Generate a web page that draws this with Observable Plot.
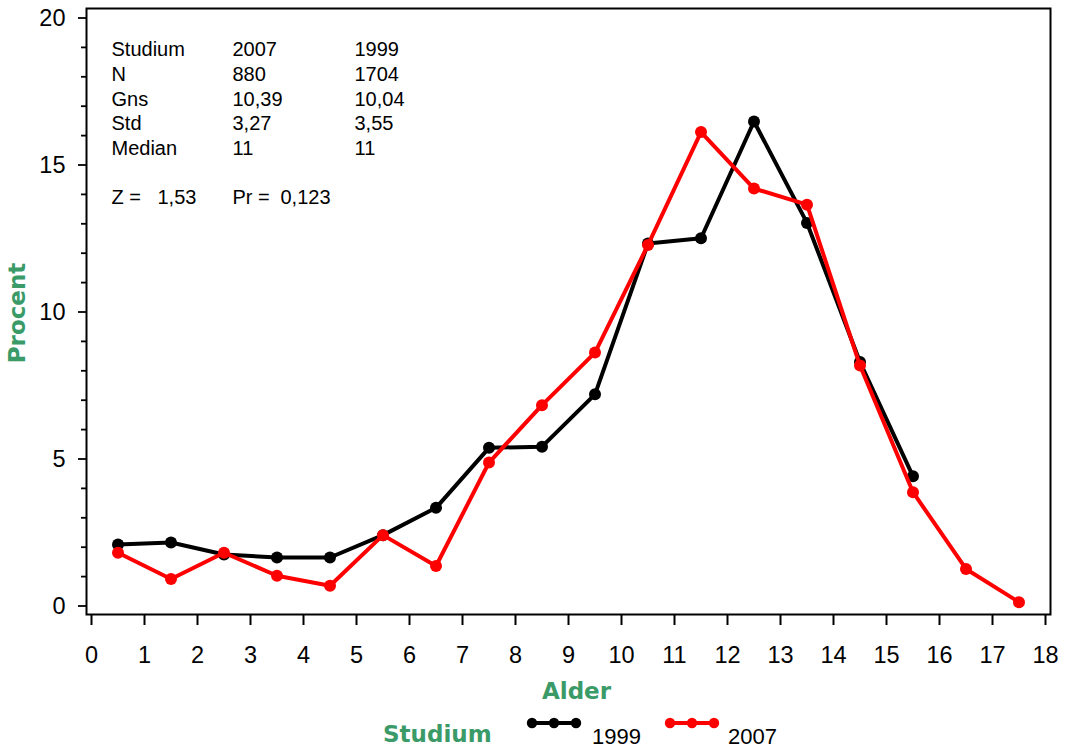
<!DOCTYPE html>
<html>
<head>
<meta charset="utf-8">
<script src="https://cdn.jsdelivr.net/npm/d3@7"></script>
<script src="https://cdn.jsdelivr.net/npm/@observablehq/plot@0.6"></script>
<style>
  body { margin: 0; background: #fff; }
  #wrap { position: relative; width: 1067px; height: 749px; overflow: hidden; background: #fff; }
</style>
</head>
<body>
<div id="wrap"></div>
<script>
// ---- data ----
const ages1999 = [0.5, 1.5, 2.5, 3.5, 4.5, 5.5, 6.5, 7.5, 8.5, 9.5, 10.5, 11.5, 12.5, 13.5, 14.5, 15.5];
const pct1999  = [2.09, 2.16, 1.75, 1.65, 1.65, 2.41, 3.34, 5.38, 5.42, 7.2, 12.33, 12.51, 16.48, 13.03, 8.3, 4.41];
const ages2007 = [0.5, 1.5, 2.5, 3.5, 4.5, 5.5, 6.5, 7.5, 8.5, 9.5, 10.5, 11.5, 12.5, 13.5, 14.5, 15.5, 16.5, 17.5];
const pct2007  = [1.81, 0.92, 1.81, 1.03, 0.69, 2.41, 1.36, 4.88, 6.83, 8.62, 12.28, 16.12, 14.2, 13.65, 8.18, 3.87, 1.26, 0.13];
const xTicks = [0, 1, 2, 3, 4, 5, 6, 7, 8, 9, 10, 11, 12, 13, 14, 15, 16, 17, 18];
const yMajor = [0, 5, 10, 15, 20];
const yMinor = [1, 2, 3, 4, 6, 7, 8, 9, 11, 12, 13, 14, 16, 17, 18, 19];
const statNames = ["Studium", "N", "Gns", "Std", "Median"];
const stat2007  = ["2007", "880", "10,39", "3,27", "11"];
const stat1999  = ["1999", "1704", "10,04", "3,55", "11"];
const testLabels = ["Z =", "1,53", "Pr =", "0,123"];
const seriesNames = ["1999", "2007"];
const seriesColors = ["#000000", "#ff0000"];
const xLabel = "Alder";
const yLabel = "Procent";
const legendTitle = "Studium";

// ---- layout ----
const W = 1067, H = 705;
const frameL = 86, frameR = 1050, frameT = 8, frameB = 614;
const green = "#3a9a68";
const sans = "'Liberation Sans', Arial, Helvetica, sans-serif";
const boldSans = "'DejaVu Sans', Verdana, sans-serif";

const rows1999 = ages1999.map((a, i) => ({age: a, pct: pct1999[i]}));
const rows2007 = ages2007.map((a, i) => ({age: a, pct: pct2007[i]}));

// stats table text marks
const statFont = 20;
const colX = [111, 232, 354];
const rowY0 = 49.3, rowStep = 24.7, zRowY = 196.7;
const statMarks = [];
[statNames, stat2007, stat1999].forEach((col, j) => {
  col.forEach((t, i) => {
    statMarks.push(Plot.text([t], {
      text: d => d, frameAnchor: "top-left", textAnchor: "start", lineAnchor: "middle",
      dx: colX[j] - frameL, dy: rowY0 + i * rowStep - frameT,
      fontSize: statFont, fontFamily: sans, fill: "#000"
    }));
  });
});
const testX = [111, 157, 232, 280];
testLabels.forEach((t, k) => {
  statMarks.push(Plot.text([t], {
    text: d => d, frameAnchor: "top-left", textAnchor: "start", lineAnchor: "middle",
    dx: testX[k] - frameL, dy: zRowY - frameT,
    fontSize: statFont, fontFamily: sans, fill: "#000"
  }));
});

const chart = Plot.plot({
  width: W, height: H,
  marginTop: frameT, marginLeft: frameL, marginRight: W - frameR, marginBottom: H - frameB,
  x: {domain: [0, 18], range: [91, 1045]},
  y: {domain: [0, 20], range: [605.5, 17.5]},
  style: {fontFamily: sans, color: "#000", background: "#fff", overflow: "visible"},
  marks: [
    Plot.frame({stroke: "#000", strokeWidth: 2}),
    Plot.axisX(xTicks, {anchor: "bottom", tickSize: 11, tickPadding: 21, fontSize: 23.5, strokeWidth: 2, label: null, tickFormat: d => String(d)}),
    Plot.axisY(yMajor, {anchor: "left", tickSize: 8, tickPadding: 13, fontSize: 23.5, strokeWidth: 1.8, label: null, tickFormat: d => String(d)}),
    Plot.axisY(yMinor, {anchor: "left", tickSize: 5, strokeWidth: 1.8, label: null, tickFormat: () => ""}),
    Plot.line(rows1999, {x: "age", y: "pct", stroke: seriesColors[0], strokeWidth: 4}),
    Plot.dot(rows1999, {x: "age", y: "pct", r: 6, fill: seriesColors[0], stroke: "none"}),
    Plot.line(rows2007, {x: "age", y: "pct", stroke: seriesColors[1], strokeWidth: 4}),
    Plot.dot(rows2007, {x: "age", y: "pct", r: 6, fill: seriesColors[1], stroke: "none"}),
    ...statMarks,
    Plot.text([yLabel], {text: d => d, frameAnchor: "left", textAnchor: "middle", lineAnchor: "middle", rotate: -90,
      dx: 17 - frameL, dy: 312.5 - (frameT + frameB) / 2,
      fontSize: 23, fontWeight: "bold", fontFamily: boldSans, fill: green}),
    Plot.text([xLabel], {text: d => d, frameAnchor: "bottom", textAnchor: "middle", lineAnchor: "middle",
      dx: 576 - (frameL + frameR) / 2, dy: 691.5 - frameB,
      fontSize: 23, fontWeight: "bold", fontFamily: boldSans, fill: green})
  ]
});
chart.style.position = "absolute";
chart.style.left = "0px";
chart.style.top = "0px";
document.getElementById("wrap").appendChild(chart);

// ---- legend (below the plot) ----
const leg = d3.select("#wrap").append("svg")
  .attr("width", W).attr("height", 749 - H)
  .style("position", "absolute").style("left", "0px").style("top", H + "px");
leg.append("text").attr("x", 383).attr("y", 37).text(legendTitle)
  .attr("font-family", boldSans).attr("font-weight", "bold").attr("font-size", 23).attr("fill", green);
const swX = [527, 665], txtX = [592, 728];
seriesNames.forEach((name, i) => {
  const g = leg.append("g");
  g.append("line").attr("x1", swX[i] + 3).attr("x2", swX[i] + 52).attr("y1", 18).attr("y2", 18)
    .attr("stroke", seriesColors[i]).attr("stroke-width", 4);
  [5, 27, 49].forEach(o => g.append("circle").attr("cx", swX[i] + o).attr("cy", 18).attr("r", 5.2).attr("fill", seriesColors[i]));
  leg.append("text").attr("x", txtX[i]).attr("y", 38.5).text(name)
    .attr("font-family", sans).attr("font-size", 22).attr("fill", "#000");
});
</script>
</body>
</html>
